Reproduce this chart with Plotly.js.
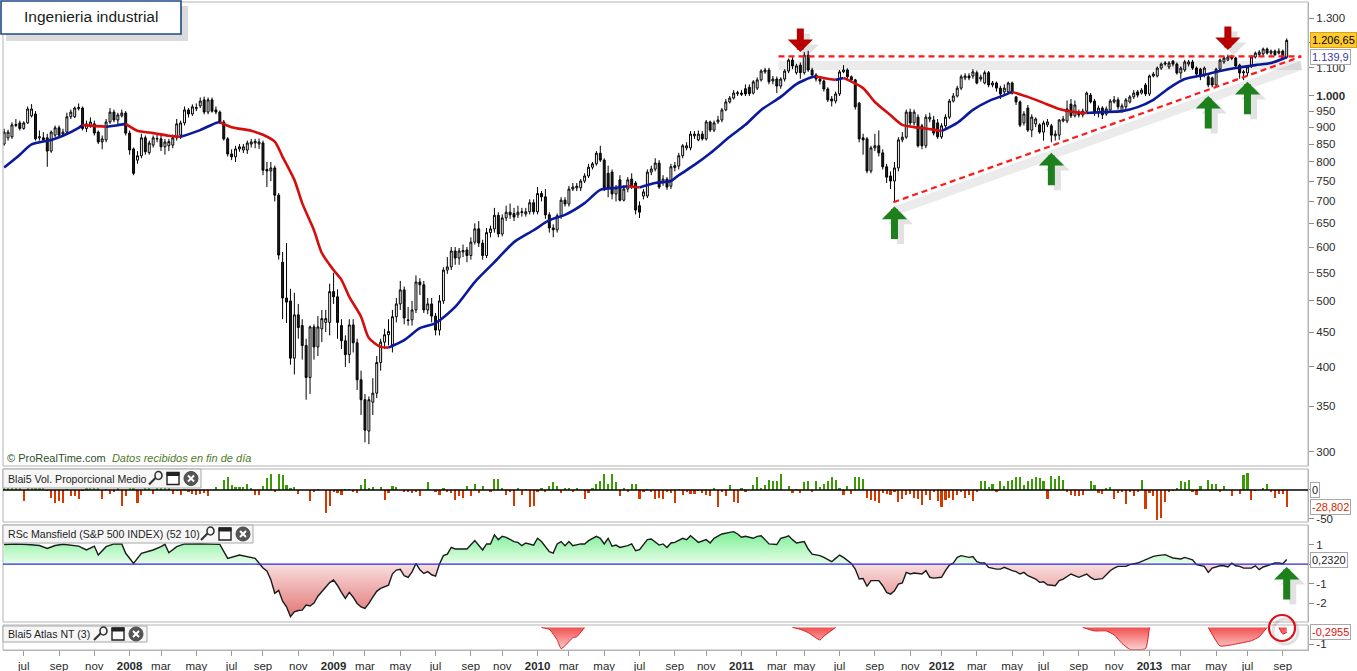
<!DOCTYPE html>
<html><head><meta charset="utf-8">
<script src="https://cdn.plot.ly/plotly-3.0.1.min.js"></script>
<style>html,body{margin:0;padding:0;background:#fff;}#chart{width:1357px;height:671px;}</style>
</head><body><div id="chart"></div>
<script>
// ---------- DATA (weekly) ----------
const chartTitle = 'Ingenieria industrial';
const firstWeek = '2007-06-08';

const openPrices = [850,868,871,905,913,896,913,935,941,868,
868,868,830,876,898,879,885,932,932,958,
960,896,904,910,885,856,862,916,947,922,
935,944,882,836,805,817,868,826,847,866,
865,842,845,847,868,876,913,954,941,958,
967,987,947,987,954,947,916,865,822,814,
836,833,833,850,853,850,853,780,776,784,
715,570,505,500,412,477,460,430,386,458,
428,455,465,465,516,507,460,437,417,461,
434,383,358,322,355,366,406,435,446,431,
474,495,519,469,469,485,533,528,485,495,
475,453,500,555,561,592,578,590,594,583,
610,638,608,583,630,638,668,627,662,675,
672,669,674,671,676,697,676,719,711,669,
640,636,667,703,694,730,733,733,750,763,
786,795,824,805,770,773,718,753,703,730,
755,745,690,713,713,773,781,797,747,755,
737,785,789,817,839,839,874,862,879,865,
916,891,916,922,954,980,993,1008,1005,1025,
1030,1010,1027,1056,1085,1092,1052,1059,1034,1059,
1088,1129,1082,1110,1082,1148,1092,1074,1059,1052,
1024,990,983,1007,1085,1092,1067,1056,976,868,
865,776,839,845,825,787,763,750,784,862,
870,947,913,931,904,845,925,922,913,871,
904,931,983,1000,1027,1063,1070,1070,1082,1059,
1045,1082,1038,1045,1027,1014,1014,1045,997,980,
913,960,891,910,907,885,907,904,874,876,
919,919,973,935,947,938,950,1003,983,944,
960,941,954,980,987,950,964,980,997,1014,
1010,1038,1007,1070,1070,1099,1114,1103,1125,1114,
1081,1092,1114,1122,1099,1095,1074,1067,1063,1038,
1095,1122,1129,1135,1137,1110,1081,1081,1107,1141,
1150,1153,1172,1156,1164,1156,1164,1140];

const highPrices = [895,892,915,925,920,918,965,973,950,890,
885,880,890,905,905,895,945,955,965,975,
965,920,930,920,890,875,925,960,955,945,
955,950,890,840,830,880,875,860,875,880,
875,865,865,878,925,920,965,960,972,975,
995,998,995,995,965,952,922,870,835,845,
850,850,860,865,865,866,860,800,800,790,
720,590,608,521,514,495,470,440,460,462,
475,485,485,530,550,520,470,445,470,470,
440,395,365,362,385,415,440,455,470,485,
505,535,525,490,500,545,540,535,505,505,
480,510,560,580,600,600,598,605,600,620,
650,655,615,640,645,685,675,670,690,695,
685,690,685,685,705,705,735,725,730,675,
648,672,710,710,738,745,745,755,770,795,
800,830,845,810,790,780,740,765,740,760,
770,750,700,730,780,790,810,805,765,760,
795,800,825,850,855,888,888,890,888,922,
920,920,935,960,990,1000,1020,1018,1020,1040,
1040,1055,1065,1095,1100,1100,1070,1068,1065,1095,
1135,1140,1115,1120,1160,1165,1100,1080,1065,1058,
1030,1000,1015,1092,1110,1098,1072,1060,980,880,
870,845,880,890,835,795,775,800,870,885,
955,958,955,940,910,940,945,935,925,912,
940,990,1010,1035,1075,1080,1080,1095,1090,1075,
1090,1088,1052,1050,1035,1040,1050,1050,1000,985,
950,970,940,930,912,920,925,910,890,925,
935,985,990,985,955,958,1015,1010,990,968,
966,965,990,1000,995,975,993,1003,1020,1020,
1027,1045,1075,1085,1105,1120,1125,1125,1130,1120,
1105,1130,1130,1130,1105,1100,1105,1075,1068,1100,
1135,1145,1150,1150,1142,1115,1092,1110,1148,1162,
1168,1178,1178,1170,1170,1175,1170,1215];

const lowPrices = [845,860,865,900,890,892,910,930,860,860,
855,787,825,870,868,875,880,925,928,952,
890,885,898,875,850,835,855,910,915,905,
930,875,820,765,795,810,820,820,840,855,
830,820,830,838,860,865,905,930,935,950,
960,940,940,945,940,910,860,815,805,800,
828,825,822,840,838,836,765,735,750,700,
575,470,464,403,390,440,410,358,365,410,
415,435,450,445,495,440,425,400,405,420,
370,340,310,308,340,360,395,425,430,420,
465,485,462,460,460,480,510,480,478,465,
445,445,495,548,555,565,565,580,570,575,
605,600,575,578,620,630,620,622,655,660,
655,662,665,665,670,670,670,700,660,630,
620,630,660,688,688,725,725,725,745,758,
780,790,800,725,710,705,700,700,700,722,
730,670,662,705,708,765,775,730,738,728,
730,775,780,810,832,832,865,858,860,860,
885,885,910,915,950,975,988,1000,1000,1000,
1000,1005,1020,1050,1078,1040,1040,1010,1025,1050,
1080,1095,1075,1060,1075,1085,1065,1050,1040,1015,
980,965,975,1000,1080,1060,1045,955,855,820,
770,770,830,815,780,745,730,698,775,855,
865,905,905,840,835,838,915,875,865,865,
898,925,978,995,1020,1055,1055,1060,1040,1050,
1040,1030,1030,1015,990,1005,1008,1005,970,900,
905,885,870,900,880,860,900,855,860,862,
915,912,928,930,930,930,945,975,935,930,
925,935,945,975,955,945,955,975,990,995,
1005,1000,1000,1065,1065,1092,1108,1095,1105,1075,
1060,1085,1105,1092,1065,1055,1065,1030,1030,1035,
1090,1115,1125,1128,1100,1060,1055,1070,1100,1135,
1142,1145,1150,1148,1145,1150,1130,1135];

const closePrices = [885,885,907,908,896,913,957,957,865,871,
862,830,885,898,876,885,932,947,960,962,
896,910,916,882,856,865,916,947,922,938,
944,882,833,770,817,868,828,853,868,865,
842,856,857,868,910,913,954,941,964,962,
983,947,987,950,947,916,865,822,814,836,
842,842,853,856,858,856,778,776,784,715,
584,505,498,412,477,457,430,386,458,428,
458,471,471,516,507,465,437,417,461,434,
383,358,323,358,366,406,435,446,451,474,
495,519,472,468,485,533,528,485,495,475,
453,500,555,561,592,578,592,593,583,610,
638,608,583,630,638,668,627,662,675,669,
664,675,676,676,697,676,719,711,669,640,
636,667,703,694,730,735,737,750,763,786,
795,824,805,733,735,718,733,703,730,753,
735,680,675,723,773,781,797,735,755,735,
787,790,817,845,845,879,879,879,865,916,
891,913,922,954,980,993,1010,1011,1010,1007,
1008,1049,1056,1088,1092,1049,1059,1034,1059,1088,
1129,1107,1107,1082,1148,1092,1074,1059,1052,1024,
987,983,1007,1085,1092,1067,1056,964,865,862,
776,839,845,825,787,760,750,784,862,870,
947,913,947,845,845,931,931,882,871,904,
931,983,1000,1027,1067,1070,1063,1085,1045,1066,
1082,1038,1045,1027,1007,1027,1045,1010,980,906,
941,891,931,925,885,913,916,876,879,922,
925,957,935,970,938,950,1010,980,944,960,
938,957,983,987,964,967,987,997,1010,1003,
1020,1007,1070,1077,1099,1114,1118,1118,1114,1081,
1099,1122,1122,1099,1077,1067,1099,1038,1038,1095,
1129,1137,1141,1141,1107,1081,1085,1103,1141,1156,
1160,1172,1156,1164,1150,1164,1137,1206.65];

// 30-week moving average, read as [week index, value]
const movingAverage = [[0,785],[4,820],[7,849],[12,862],[15,874],[19,898],[20,906],[23,904],[26,901],[29,906],[31,910],
[34,889],[38,882],[42,874],[45,871],[50,891],[54,913],[55,915],[58,900],[63,889],[66,877],[69,857],[71,814],
[74,753],[76,696],[79,635],[81,588],[84,555],[86,537],[88,507],[91,474],[93,441],[96,428],[98,427],[102,438],
[106,456],[110,464],[115,490],[120,533],[125,570],[130,610],[135,635],[139,657],[143,669],[148,696],[152,728],
[156,733],[159,737],[161,735],[162,734],[166,745],[170,750],[172,765],[176,792],[180,824],[185,871],[189,907],
[193,954],[198,997],[202,1041],[206,1066],[207,1068],[210,1060],[212,1056],[214,1063],[219,1027],[222,980],
[226,937],[229,907],[232,900],[236,894],[239,888],[243,913],[247,954],[251,983],[255,1003],[257,1014],[261,997],
[265,977],[269,957],[273,947],[276,944],[280,947],[285,950],[289,963],[293,987],[297,1027],[301,1059],
[306,1074],[310,1088],[314,1099],[319,1110],[323,1118],[327,1139.9]];

// Blai5 Vol. Proporcional Medio (weekly)
const volumeValues = [3,3,3,3,3,-19,3,3,3,3,3,
-1,-13,-23,-19,-22,2,-10,-11,-15,-2,
3,3,3,3,-15,2,-7,-3,3,-28,
-11,3,3,-22,-9,3,3,-7,3,3,
3,3,-7,-1,-9,2,-3,-7,-9,-7,
-5,-11,0,5,0,17,23,8,6,5,
5,11,4,-9,-9,7,21,27,-3,27,
25,9,3,5,-7,0,0,-19,-3,2,
0,-40,-28,-4,-5,-9,2,2,-3,-5,
9,19,3,6,0,5,-17,-6,7,5,
0,-3,-3,-5,-3,-10,0,13,0,-3,
-8,4,-3,-6,-17,-11,-13,7,-11,10,
-6,7,0,-3,19,19,4,-9,-4,-27,
4,-9,2,-30,-28,-3,3,-4,7,14,
7,-6,3,3,-3,3,0,-15,-6,3,
10,16,28,10,27,13,-11,4,-3,11,
11,-15,-4,2,-3,-15,-13,-16,-3,-6,
-22,2,-8,-3,-7,-7,-2,-6,-9,-11,
4,-30,-3,-11,9,-20,-23,3,-3,0,
9,22,4,9,18,15,15,28,0,7,
-6,2,-6,13,15,-3,15,6,11,16,
22,17,3,-9,7,-7,23,22,19,-13,
-17,-19,-22,-6,-7,-9,-3,-20,-15,-9,
-7,-13,-15,-26,-9,-17,-3,-19,-30,-18,
-13,-17,-9,-4,-13,-9,-19,-3,16,16,
6,11,-4,16,7,15,17,22,22,9,
15,19,22,20,15,-15,24,19,24,17,
-3,-9,-11,-11,-9,0,15,9,-6,-7,
3,6,-15,-6,-4,-24,-3,-10,-3,17,
-32,-6,-10,-52,-49,-20,-3,-2,3,15,
13,17,-3,-9,7,0,17,10,11,-3,
7,0,-10,0,-7,26,30,-17,-2,0,
3,11,-4,-13,-7,-7,-28.802];

// RSc Mansfield (S&P 500 INDEX) (52 10), read as [week index, value]
const rscMansfield = [[0,1.0],[3,1.03],[6,1.0],[9,0.95],[11,0.8],[13,0.95],[15,1.01],[17,0.97],[19,0.92],[21,0.72],[23,0.92],[24,0.46],
[26,0.89],[28,1.03],[30,1.03],[31,0.55],[33,0.03],[35,0.55],[38,0.72],[40,0.89],[41,1.01],[42,0.58],[44,0.89],[46,1.03],[50,1.04],
[55,1.01],[57,0.29],[60,0.46],[62,0.38],[64,0.29],[66,-0.2],[67,-0.36],[68,-0.8],[69,-1.5],[70,-1.35],[71,-1.9],[72,-2.19],[73,-2.7],
[74,-2.45],[75,-2.38],[76,-2.36],[77,-2.1],[78,-2.15],[79,-2.0],[80,-1.65],[81,-1.4],[82,-1.2],[83,-0.95],[84,-0.82],[85,-1.1],
[86,-1.45],[87,-1.76],[88,-1.45],[89,-1.7],[90,-2.02],[91,-2.2],[92,-2.27],[93,-2.02],[94,-1.7],[95,-1.4],[96,-1.25],[97,-1.15],
[98,-1.08],[99,-0.5],[100,-0.31],[101,-0.27],[102,-0.6],[103,-0.68],[104,-0.4],[105,0.03],[106,-0.3],[107,-0.48],[108,-0.39],
[109,-0.55],[110,-0.62],[111,0.0],[112,0.43],[113,0.51],[114,0.85],[115,0.77],[116,0.77],[118,0.77],[120,1.2],[122,0.72],[123,1.03],
[124,1.03],[125,1.5],[126,1.25],[127,1.42],[128,1.37],[130,1.15],[131,1.11],[132,0.94],[133,1.08],[135,0.97],[136,1.32],[137,1.15],
[139,0.63],[140,0.56],[141,1.03],[142,1.15],[143,0.94],[144,1.15],[145,0.94],[147,1.03],[148,1.03],[149,1.2],[151,1.42],[152,1.32],
[153,1.03],[154,1.32],[155,0.91],[156,0.97],[157,0.85],[159,0.94],[160,1.03],[161,0.68],[162,0.74],[164,1.25],[165,1.28],[167,0.97],
[168,1.03],[169,0.85],[170,1.08],[171,1.11],[173,1.32],[174,1.25],[175,1.45],[176,1.28],[177,1.11],[179,1.25],[180,1.08],[181,1.32],
[183,1.54],[185,1.62],[186,1.66],[187,1.54],[188,1.37],[189,1.42],[191,1.32],[192,1.42],[193,1.45],[194,1.25],[195,1.03],[197,1.0],
[198,1.32],[199,1.37],[200,1.45],[201,1.25],[202,1.08],[204,1.15],[205,0.77],[206,0.51],[208,0.43],[209,0.34],[211,0.12],[212,0.29],
[213,0.46],[214,0.34],[216,0.03],[217,-0.26],[218,-0.77],[219,-0.74],[220,-1.15],[221,-0.85],[223,-0.85],[224,-1.11],[225,-1.45],
[226,-1.54],[227,-1.37],[228,-1.03],[229,-0.97],[230,-0.43],[231,-0.51],[232,-0.46],[234,-0.51],[235,-0.34],[236,-0.68],[237,-0.72],
[239,-0.68],[240,-0.34],[241,-0.05],[242,0.05],[243,0.34],[244,0.43],[246,0.34],[247,0.38],[248,0.12],[249,0.05],[250,0.05],
[251,-0.17],[253,-0.26],[254,-0.26],[255,-0.17],[257,-0.34],[258,-0.39],[259,-0.51],[260,-0.43],[261,-0.6],[263,-0.77],[264,-0.94],
[265,-0.91],[266,-1.06],[268,-1.11],[269,-0.85],[270,-0.77],[272,-0.51],[273,-0.6],[274,-0.68],[276,-0.51],[277,-0.68],[278,-0.8],
[280,-0.75],[281,-0.55],[282,-0.34],[283,-0.21],[284,-0.12],[286,-0.12],[287,-0.03],[289,0.05],[290,0.14],[292,0.31],[293,0.39],
[294,0.43],[296,0.48],[297,0.39],[298,0.31],[300,0.26],[301,0.34],[303,0.22],[304,-0.03],[306,-0.12],[307,-0.43],[308,-0.21],
[310,-0.09],[311,-0.09],[312,-0.15],[313,0.05],[314,-0.09],[315,-0.12],[316,-0.21],[318,-0.21],[319,-0.09],[320,-0.29],[321,-0.15],
[322,-0.09],[324,0.05],[325,0.05],[326,0.02],[327,0.232]];

// Blai5 Atlas NT (3), read as [week index, value]
const atlasNT = [[0,0],[137,0],[139,-0.11],[141,-0.75],[142,-1.28],[143,-1.1],[145,-0.62],[146,-0.56],[148,0],
[201,0],[203,-0.11],[205,-0.31],[208,-0.76],[209,-0.52],[212,0],
[275,0],[278,-0.21],[281,-0.21],[283,-0.45],[285,-0.96],[287,-1.32],[291,-1.28],[292,0],
[307,0],[310,-1.12],[314,-1.0],[318,-0.8],[320,-0.56],[322,0],[325,0],[326,-0.4],[327,-0.2955]];

// Trend lines drawn on the chart
const resistanceDates = ['2011-03-21','2013-10-09'];
const resistanceLevels = [1143,1143];
const supportDates = ['2011-10-12','2013-10-09'];
const supportLevels = [698,1143];

// Arrow marks: [week index, price at arrow tip]
const greenArrows = [[227,688],[267,825],[307,1000],[317,1049]];
const redArrows = [[203,1160],[312,1168]];
const rscArrowWeek = 327, rscArrowValue = -0.15;

// Axis ticks (date ticks sit on the first weekly bar of each labelled month)
const priceTicks = [300,350,400,450,500,550,600,650,700,750,800,850,900,950,1000,1100,1200,1300];
const priceTickLabels = ['300','350','400','450','500','550','600','650','700','750','800','850','900','950','<b>1.000</b>','1.100','','1.300'];
const dateTickWeeks = [5,14,23,32,40,49,58,66,75,84,92,101,110,119,127,136,144,153,162,171,179,188,197,204,213,222,231,239,
248,257,265,274,283,292,300,309,317,326];
const dateTickLabels = ['jul','sep','nov','<b>2008</b>','mar','may','jul','sep','nov','<b>2009</b>','mar','may','jul','sep','nov',
'<b>2010</b>','mar','may','jul','sep','nov','<b>2011</b>','mar','may','jul','sep','nov','<b>2012</b>','mar','may','jul','sep','nov',
'<b>2013</b>','mar','may','jul','sep'];

// ---------- BUILD ----------
const DAY = 86400000;
const t0 = Date.parse(firstWeek + 'T00:00:00Z');
const weeks = closePrices.map((_, i) => new Date(t0 + i * 7 * DAY).toISOString().slice(0, 10));

// pixel helpers (layout only)
const L = 3, R = 1308, T = 2, B = 650;
const X = px => (px - L) / (R - L);
const Y = py => (B - py) / (B - T);

function fmtEs(v, dec) {
  const s = Math.abs(v).toFixed(dec);
  let [i, f] = s.split('.');
  i = i.replace(/\B(?=(\d{3})+(?!\d))/g, '.');
  return (v < 0 ? '-' : '') + i + (f ? ',' + f : '');
}

const FONT = 'Liberation Sans, Arial, sans-serif';
const traces = [];

traces.push({
  type: 'candlestick', x: weeks, open: openPrices, high: highPrices, low: lowPrices, close: closePrices,
  xaxis: 'x', yaxis: 'y', whiskerwidth: 0, hoverinfo: 'skip', showlegend: false,
  increasing: {line: {color: '#000', width: 1}, fillcolor: '#ffffff'},
  decreasing: {line: {color: '#000', width: 1}, fillcolor: '#1c1c1c'}
});

// moving average coloured by slope
(function () {
  const mx = movingAverage.map(p => weeks[p[0]]);
  const my = movingAverage.map(p => p[1]);
  let s = 0;
  const dir = k => (my[k] >= my[k - 1] ? 1 : -1);
  for (let k = 1; k < my.length; k++) {
    const last = k === my.length - 1 || dir(k + 1) !== dir(k);
    if (last) {
      traces.push({
        type: 'scatter', mode: 'lines', x: mx.slice(s, k + 1), y: my.slice(s, k + 1), xaxis: 'x', yaxis: 'y',
        line: {color: dir(k) > 0 ? '#0b1a9c' : '#d40d0d', width: 2.6, shape: 'spline', smoothing: 0.7},
        hoverinfo: 'skip', showlegend: false
      });
      s = k;
    }
  }
})();

// trend line shadows + dashed lines
const shadowFactor = Math.exp(-9 / 295.7);
[[resistanceDates, resistanceLevels], [supportDates, supportLevels]].forEach(([d, v]) => {
  traces.push({type: 'scatter', mode: 'lines', x: d, y: v.map(p => p * shadowFactor), xaxis: 'x', yaxis: 'y',
    line: {color: 'rgba(0,0,0,0.08)', width: 9}, hoverinfo: 'skip', showlegend: false});
});
[[resistanceDates, resistanceLevels], [supportDates, supportLevels]].forEach(([d, v]) => {
  traces.push({type: 'scatter', mode: 'lines', x: d, y: v, xaxis: 'x', yaxis: 'y',
    line: {color: '#ff1a1a', width: 2.2, dash: '6px,4px'}, hoverinfo: 'skip', showlegend: false});
});

// volume bars
traces.push({
  type: 'bar', x: weeks, y: volumeValues, xaxis: 'x', yaxis: 'y2', width: 0.55 * 7 * DAY,
  marker: {color: volumeValues.map(v => (v >= 0 ? '#3a9a06' : '#d43a00')), line: {width: 0}},
  hoverinfo: 'skip', showlegend: false
});

// RSc Mansfield
const rx = rscMansfield.map(p => weeks[p[0]]);
const ry = rscMansfield.map(p => p[1]);
traces.push({type: 'scatter', mode: 'none', x: rx, y: ry.map(v => Math.max(v, 0)), xaxis: 'x', yaxis: 'y3',
  fill: 'tozeroy', fillcolor: '#b5f5c0',
  fillgradient: {type: 'vertical', start: 0, stop: 1.8, colorscale: [[0, '#e9fde9'], [1, '#6fee8c']]},
  hoverinfo: 'skip', showlegend: false});
traces.push({type: 'scatter', mode: 'none', x: rx, y: ry.map(v => Math.min(v, 0)), xaxis: 'x', yaxis: 'y3',
  fill: 'tozeroy', fillcolor: '#f0b8b8',
  fillgradient: {type: 'vertical', start: -2.8, stop: 0, colorscale: [[0, '#e27272'], [1, '#f9dede']]},
  hoverinfo: 'skip', showlegend: false});
traces.push({type: 'scatter', mode: 'lines', x: rx, y: ry, xaxis: 'x', yaxis: 'y3',
  line: {color: '#1a1a1a', width: 1.4}, hoverinfo: 'skip', showlegend: false});

// Atlas NT: one filled trace per dip below zero
(function () {
  let seg = null;
  const flush = () => {
    if (seg && seg.length > 1) {
      traces.push({type: 'scatter', mode: 'lines', x: seg.map(p => weeks[p[0]]), y: seg.map(p => p[1]),
        xaxis: 'x', yaxis: 'y4', fill: 'tozeroy', fillcolor: '#f78a8a',
        fillgradient: {type: 'vertical', start: -1.3, stop: 0, colorscale: [[0, '#ffcccc'], [1, '#f05050']]},
        line: {color: '#e01e1e', width: 1, shape: 'spline', smoothing: 0.4}, hoverinfo: 'skip', showlegend: false});
    }
    seg = null;
  };
  atlasNT.forEach((p, k) => {
    const next = atlasNT[k + 1];
    if (p[1] === 0) {
      if (seg) { seg.push(p); flush(); }
      if (next && next[1] !== 0) seg = [p];
    } else if (seg) {
      seg.push(p);
    }
  });
  flush();
})();

// ---------- SHAPES ----------
const shapes = [];
const frame = (top, bottom) => shapes.push({type: 'rect', xref: 'paper', yref: 'paper', x0: X(3), x1: X(1308),
  y0: Y(bottom), y1: Y(top), line: {color: '#b4b4b4', width: 1}, fillcolor: 'rgba(0,0,0,0)', layer: 'above'});
frame(2, 466); frame(469, 522); frame(525, 622); frame(625, 650);

// zero lines
shapes.push({type: 'line', xref: 'paper', x0: X(3), x1: X(1308), yref: 'y2', y0: 0, y1: 0, line: {color: '#000', width: 1.5}});
shapes.push({type: 'line', xref: 'paper', x0: X(3), x1: X(1308), yref: 'y3', y0: 0, y1: 0, line: {color: '#2a2ae0', width: 1.3}});

// title box
shapes.push({type: 'rect', xref: 'paper', yref: 'paper', x0: X(6), x1: X(188), y0: Y(41), y1: Y(6),
  line: {width: 0}, fillcolor: 'rgba(0,0,0,0.14)', layer: 'above'});
shapes.push({type: 'rect', xref: 'paper', yref: 'paper', x0: X(1), x1: X(181), y0: Y(34), y1: Y(1),
  line: {color: '#1f4a85', width: 1.6}, fillcolor: '#ffffff', layer: 'above'});

// indicator label boxes with icons
const annotations = [];
function labelBox(text, x1, top, bottom, icons) {
  shapes.push({type: 'rect', xref: 'paper', yref: 'paper', x0: X(3), x1: X(x1), y0: Y(bottom), y1: Y(top),
    line: {color: '#a8a8a8', width: 1}, fillcolor: '#f6f6f6', layer: 'above'});
  const cy = (top + bottom) / 2;
  annotations.push({xref: 'paper', yref: 'paper', x: X(6), y: Y(cy), xanchor: 'left', yanchor: 'middle', showarrow: false,
    text: text, font: {family: FONT, size: 10.6, color: '#1e1e1e'}});
  const [wx, winx, cx] = icons;
  // wrench
  shapes.push({type: 'line', xref: 'paper', yref: 'paper', x0: X(wx - 6), y0: Y(cy + 6), x1: X(wx + 2), y1: Y(cy - 2),
    line: {color: '#333', width: 2.2}, layer: 'above'});
  shapes.push({type: 'circle', xref: 'paper', yref: 'paper', x0: X(wx), y0: Y(cy + 1), x1: X(wx + 7), y1: Y(cy - 7),
    line: {color: '#333', width: 1.6}, fillcolor: '#f6f6f6', layer: 'above'});
  // window
  shapes.push({type: 'rect', xref: 'paper', yref: 'paper', x0: X(winx - 6), y0: Y(cy + 6), x1: X(winx + 6), y1: Y(cy - 6),
    line: {color: '#222', width: 1.4}, fillcolor: '#ffffff', layer: 'above'});
  shapes.push({type: 'rect', xref: 'paper', yref: 'paper', x0: X(winx - 6), y0: Y(cy - 3), x1: X(winx + 6), y1: Y(cy - 6),
    line: {color: '#222', width: 1}, fillcolor: '#222', layer: 'above'});
  // close
  shapes.push({type: 'circle', xref: 'paper', yref: 'paper', x0: X(cx - 7), y0: Y(cy + 7), x1: X(cx + 7), y1: Y(cy - 7),
    line: {color: '#4a4a4a', width: 1}, fillcolor: '#555', layer: 'above'});
  shapes.push({type: 'line', xref: 'paper', yref: 'paper', x0: X(cx - 3), y0: Y(cy + 3), x1: X(cx + 3), y1: Y(cy - 3),
    line: {color: '#fff', width: 2}, layer: 'above'});
  shapes.push({type: 'line', xref: 'paper', yref: 'paper', x0: X(cx - 3), y0: Y(cy - 3), x1: X(cx + 3), y1: Y(cy + 3),
    line: {color: '#fff', width: 2}, layer: 'above'});
}
labelBox('Blai5 Vol. Proporcional Medio', 201, 469, 488, [155, 173, 191]);
labelBox('RSc Mansfield (S&amp;P 500 INDEX) (52 10)', 253, 525, 543, [207, 225, 243]);
labelBox('Blai5 Atlas NT (3)', 147, 626, 642, [100, 118, 136]);

// hand-drawn circle
shapes.push({type: 'circle', xref: 'paper', yref: 'paper', x0: X(1273), x1: X(1298), y0: Y(644), y1: Y(619),
  line: {color: 'rgba(0,0,0,0.12)', width: 3}, layer: 'above'});
shapes.push({type: 'circle', xref: 'paper', yref: 'paper', x0: X(1269), x1: X(1295), y0: Y(641), y1: Y(615),
  line: {color: '#e0101a', width: 2.2}, layer: 'above'});

// ---------- ANNOTATIONS ----------
annotations.push({xref: 'paper', yref: 'paper', x: X(91), y: Y(17), xanchor: 'center', yanchor: 'middle', showarrow: false,
  text: chartTitle, font: {family: FONT, size: 15.5, color: '#1a1a1a'}});
annotations.push({xref: 'paper', yref: 'paper', x: X(5), y: Y(458), xanchor: 'left', yanchor: 'middle', showarrow: false,
  text: '<span style="color:#2f4f2f">© ProRealTime.com</span>  <i><span style="color:#4f7a1f">Datos recibidos en fin de día</span></i>',
  font: {family: FONT, size: 11, color: '#2f4f2f'}});

function arrow(xd, yv, yref, ay, color, shadow) {
  annotations.push({x: xd, y: yv, xref: 'x', yref: yref, ax: 0, ay: ay, showarrow: true, text: '',
    arrowhead: 1, arrowsize: 0.6, arrowwidth: 7, arrowcolor: shadow ? 'rgba(0,0,0,0.11)' : color, standoff: 0,
    xshift: shadow ? 6 : 0, yshift: shadow ? -5 : 0});
}
greenArrows.forEach(([w, p]) => arrow(weeks[w], Math.log10(p), 'y', 34, '', true));
redArrows.forEach(([w, p]) => arrow(weeks[w], Math.log10(p), 'y', -25, '', true));
arrow(weeks[rscArrowWeek], rscArrowValue, 'y3', 34, '', true);
greenArrows.forEach(([w, p]) => arrow(weeks[w], Math.log10(p), 'y', 34, '#1d801d', false));
redArrows.forEach(([w, p]) => arrow(weeks[w], Math.log10(p), 'y', -25, '#b80000', false));
arrow(weeks[rscArrowWeek], rscArrowValue, 'y3', 34, '#1d801d', false);

// right-hand value labels
function valueLabel(yref, y, text, bg, border, color) {
  annotations.push({xref: 'paper', x: X(1310), xanchor: 'left', yref: yref, y: y, yanchor: 'middle', showarrow: false,
    text: text, bgcolor: bg, bordercolor: border, borderwidth: 1, borderpad: 1,
    font: {family: FONT, size: 11, color: color}});
}
const lastClose = closePrices[closePrices.length - 1];
const lastMA = movingAverage[movingAverage.length - 1][1];
const lastVol = volumeValues[volumeValues.length - 1];
const lastRsc = rscMansfield[rscMansfield.length - 1][1];
const lastAtlas = atlasNT[atlasNT.length - 1][1];
valueLabel('y', Math.log10(lastClose), fmtEs(lastClose, 2), '#ffcb2e', '#d9a21a', '#000');
valueLabel('y', Math.log10(lastMA), fmtEs(lastMA, 1), '#ffffff', '#a8a8a8', '#3a3a9e');
valueLabel('y2', 0, '0', '#ffffff', '#a8a8a8', '#222');
valueLabel('y2', lastVol, fmtEs(lastVol, 3), '#ffffff', '#a8a8a8', '#d22a00');
valueLabel('y3', lastRsc, fmtEs(lastRsc, 4), '#ffffff', '#a8a8a8', '#222');
valueLabel('y4', lastAtlas, fmtEs(lastAtlas, 4), '#ffffff', '#a8a8a8', '#e01010');

// ---------- LAYOUT ----------
const tickFont = {family: FONT, size: 11.5, color: '#2a2a2a'};
const yCommon = {side: 'right', anchor: 'x', ticks: 'outside', ticklen: 5, tickcolor: '#8a8a8a', showline: true,
  linecolor: '#b4b4b4', showgrid: false, zeroline: false, tickfont: tickFont, fixedrange: true};

const layout = {
  width: 1357, height: 671, margin: {l: L, r: 1357 - R, t: T, b: 671 - B},
  paper_bgcolor: '#ffffff', plot_bgcolor: '#ffffff', showlegend: false, bargap: 0,
  xaxis: {type: 'date', range: ['2007-06-06', '2013-10-21'], anchor: 'y4',
    tickvals: dateTickWeeks.map(w => weeks[w]), ticktext: dateTickLabels,
    ticks: 'outside', ticklen: 5, tickcolor: '#9a9a9a', showline: true, linecolor: '#b4b4b4', showgrid: false,
    zeroline: false, rangeslider: {visible: false}, tickfont: {family: FONT, size: 11.5, color: '#2a2a2a'}, fixedrange: true},
  yaxis: Object.assign({}, yCommon, {domain: [Y(466), Y(2)], type: 'log',
    range: [Math.log10(286.1), Math.log10(1374.2)], tickvals: priceTicks, ticktext: priceTickLabels}),
  yaxis2: Object.assign({}, yCommon, {domain: [Y(522), Y(469)], range: [-55.2, 36.2], tickvals: [0, -50], ticktext: ['', '-50']}),
  yaxis3: Object.assign({}, yCommon, {domain: [Y(622), Y(525)], range: [-2.97, 2.0], tickvals: [1, 0, -1, -2], ticktext: ['1', '', '-1', '-2']}),
  yaxis4: Object.assign({}, yCommon, {domain: [Y(650), Y(625)], range: [-1.36, 0.15], tickvals: [-1], ticktext: ['-1']}),
  shapes: shapes, annotations: annotations
};

Plotly.newPlot('chart', traces, layout, {staticPlot: true, displayModeBar: false});
</script></body></html>
